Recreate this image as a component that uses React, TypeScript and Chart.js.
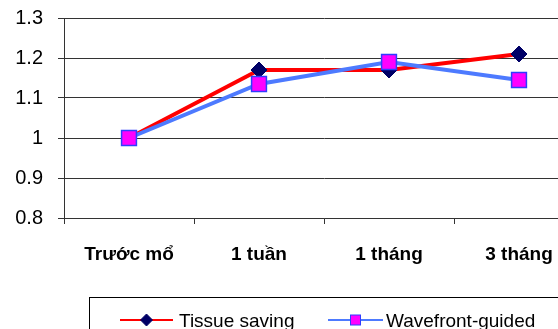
import React, { useEffect, useRef } from "react";
import { Chart, registerables } from "chart.js";

Chart.register(...registerables);

const categories = ["Trước mổ", "1 tuần", "1 tháng", "3 tháng"];
const tissueSaving = [1, 1.17, 1.17, 1.21];
const wavefrontGuided = [1, 1.135, 1.19, 1.145];
const seriesNames = ["Tissue saving", "Wavefront-guided"];
const yMin = 0.8;
const yMax = 1.3;
const yStep = 0.1;

const FONT = "'Liberation Sans', Arial, sans-serif";

const legendPlugin = {
  id: "boxLegend",
  afterDraw(chart: any) {
    const ctx = chart.ctx;
    ctx.save();
    ctx.strokeStyle = "#000";
    ctx.lineWidth = 1;
    ctx.strokeRect(89.5, 297.5, 600, 100);
    const ds = chart.data.datasets;
    const entries = [
      { x0: 120, x1: 173, tx: 179, d: ds[0] },
      { x0: 328, x1: 383, tx: 386, d: ds[1] },
    ];
    const y = 320;
    entries.forEach((e, i) => {
      ctx.strokeStyle = e.d.borderColor;
      ctx.lineWidth = 2;
      ctx.beginPath();
      ctx.moveTo(e.x0, y);
      ctx.lineTo(e.x1, y);
      ctx.stroke();
      const cx = (e.x0 + e.x1) / 2;
      ctx.fillStyle = e.d.pointBackgroundColor;
      ctx.strokeStyle = e.d.pointBorderColor;
      ctx.lineWidth = 1;
      if (i === 0) {
        ctx.beginPath();
        ctx.moveTo(cx, y - 6);
        ctx.lineTo(cx + 6, y);
        ctx.lineTo(cx, y + 6);
        ctx.lineTo(cx - 6, y);
        ctx.closePath();
        ctx.fill();
        ctx.stroke();
      } else {
        ctx.fillRect(cx - 5, y - 5, 10, 10);
        ctx.strokeRect(cx - 5, y - 5, 10, 10);
      }
      ctx.fillStyle = "#000";
      ctx.font = `19px ${FONT}`;
      ctx.textBaseline = "alphabetic";
      ctx.textAlign = "left";
      ctx.fillText(e.d.label, e.tx, 327);
    });
    ctx.restore();
  },
};

export default function App() {
  const ref = useRef<HTMLCanvasElement>(null);
  useEffect(() => {
    if (!ref.current) return;
    const chart = new Chart(ref.current, {
      type: "line",
      data: {
        labels: categories,
        datasets: [
          {
            label: seriesNames[0],
            data: tissueSaving,
            borderColor: "#ff0000",
            borderWidth: 4,
            pointStyle: "rectRot",
            pointRadius: 8,
            pointBackgroundColor: "#000066",
            pointBorderColor: "#000066",
            pointBorderWidth: 1,
            tension: 0,
            order: 1,
          },
          {
            label: seriesNames[1],
            data: wavefrontGuided,
            borderColor: "#4d7aff",
            borderWidth: 4,
            pointStyle: "rect",
            pointRadius: 10.5,
            pointBackgroundColor: "#ff00ff",
            pointBorderColor: "#2f3cff",
            pointBorderWidth: 1.5,
            tension: 0,
            order: 0,
          },
        ],
      },
      options: {
        animation: false,
        responsive: false,
        maintainAspectRatio: false,
        layout: { padding: { left: 0, top: 18, right: 16, bottom: 0 } },
        plugins: { legend: { display: false }, tooltip: { enabled: false } },
        scales: {
          x: {
            offset: true,
            grid: {
              offset: true,
              drawOnChartArea: false,
              drawTicks: true,
              tickLength: 6,
              color: "#333",
              lineWidth: 1,
            },
            border: { display: true, color: "#333", width: 1 },
            ticks: {
              color: "#000",
              font: { family: FONT, size: 19, weight: "bold" },
              padding: 19,
              maxRotation: 0,
            },
            afterFit: (s: any) => {
              s.height = 111;
              s.paddingLeft = 0;
              s.paddingRight = 0;
            },
          },
          y: {
            min: yMin,
            max: yMax,
            grid: { color: "#333", lineWidth: 1, tickLength: 6 },
            border: { display: true, color: "#333", width: 1 },
            ticks: {
              stepSize: yStep,
              color: "#000",
              font: { family: FONT, size: 20 },
              padding: 15,
              callback: (v: any) => String(Number(Number(v).toFixed(1))),
            },
            afterFit: (s: any) => {
              s.width = 64;
              s.paddingTop = 0;
              s.paddingBottom = 0;
            },
          },
        },
      },
      plugins: [legendPlugin],
    });
    return () => chart.destroy();
  }, []);
  return (
    <div style={{ position: "absolute", left: 0, top: 0, width: 558, height: 329, overflow: "hidden", background: "#fff" }}>
      <canvas ref={ref} width={600} height={329} style={{ width: 600, height: 329, display: "block" }} />
    </div>
  );
}
